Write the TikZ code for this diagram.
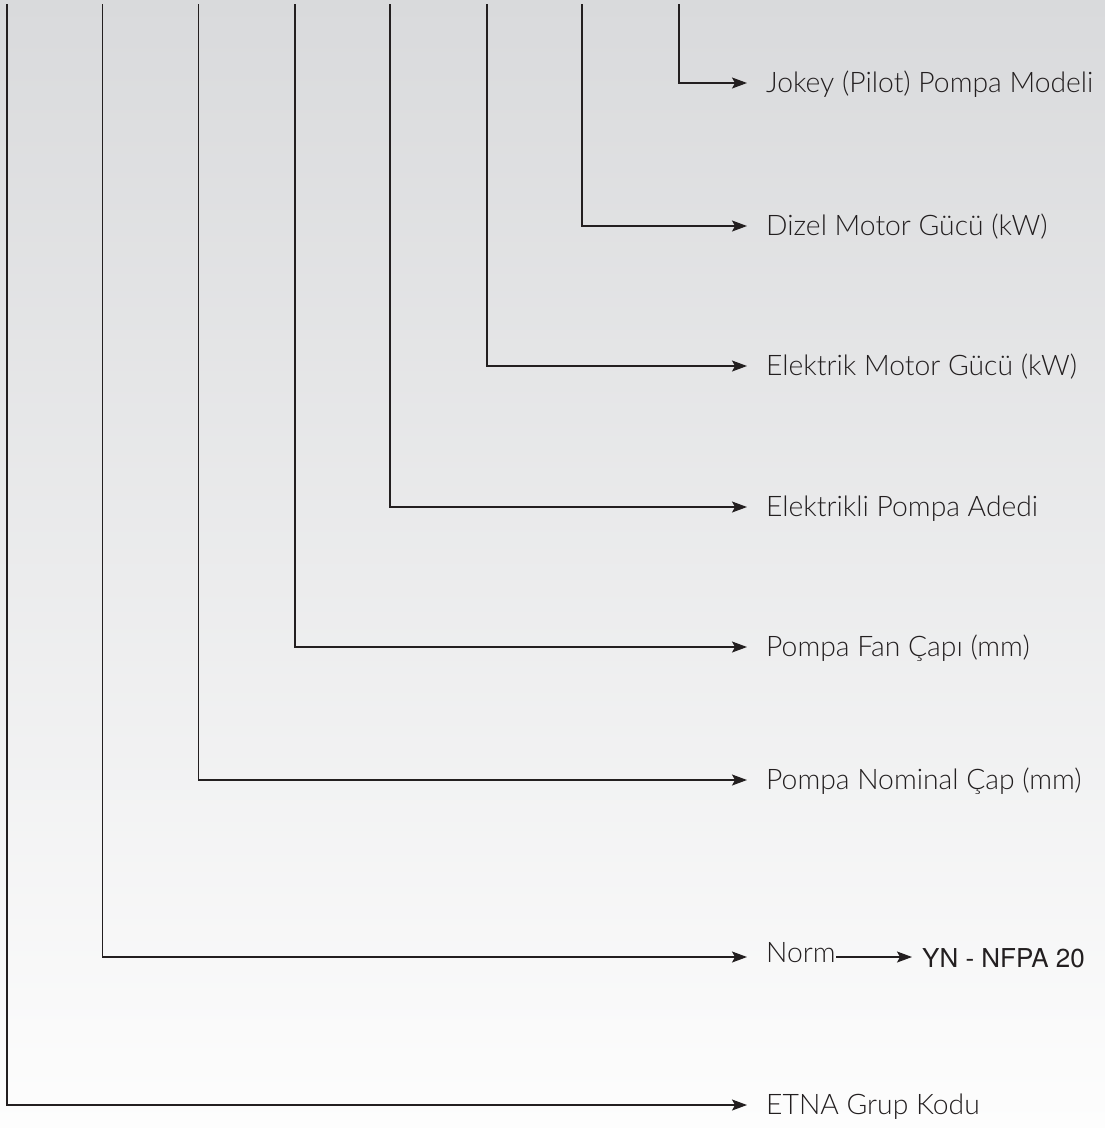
\documentclass[tikz,border=0pt]{standalone}
\usepackage{fontspec}
\setmainfont{Lato Light}
\newfontfamily\helv{TeX Gyre Heros}
\usetikzlibrary{arrows.meta}
\definecolor{ink}{HTML}{231F20}
\definecolor{bgtop}{HTML}{D9DADC}
\definecolor{bgbot}{HTML}{FDFDFD}
\tikzset{
  conn/.style={draw=ink, line width=1.3pt, -{Stealth[length=15pt,width=11pt,inset=3pt]}},
  lab/.style={inner sep=0pt, anchor=base west, text=ink, font=\fontsize{28.3}{32}\selectfont},
}
\begin{document}
\begin{tikzpicture}[x=1pt,y=-1pt]
\useasboundingbox (0,0) rectangle (1105,1128);
\shade[top color=bgtop, bottom color=bgbot] (0,0) rectangle (1105,1128);
% tops of vertical lines
\foreach \n/\x in {a/7,b/102.5,c/198.5,d/295,e/390,f/487,g/582,h/679}{
  \coordinate (top\n) at (\x,4);
}
% labels
\node[lab] (lh) at (766,92.5) {Jokey (Pilot) Pompa Modeli};
\node[lab] (lg) at (766,235) {Dizel Motor Gücü (kW)};
\node[lab] (lf) at (766,375.5) {Elektrik Motor Gücü (kW)};
\node[lab] (le) at (766,516) {Elektrikli Pompa Adedi};
\node[lab] (ld) at (766,656) {Pompa Fan Çapı (mm)};
\node[lab] (lc) at (766,789) {Pompa Nominal Çap (mm)};
\node[lab] (lb) at (766,962.3) {Norm};
\node[lab, font=\helv\fontsize{26}{30}\selectfont] (nfpa) at (922,967.7) {YN - NFPA 20};
\node[lab] (la) at (766,1114) {ETNA Grup Kodu};
% arrow tips
\coordinate (th) at (747,83);
\coordinate (tg) at (747,226);
\coordinate (tf) at (747,366);
\coordinate (te) at (747,507);
\coordinate (td) at (747,647);
\coordinate (tc) at (747,780);
\coordinate (tb) at (747,957);
\coordinate (ta) at (747,1105);
\coordinate (ns) at (836,957);
\coordinate (ne) at (912,957);
% connectors
\foreach \n in {a,b,c,d,e,f,g,h}{
  \draw[conn] (top\n) |- (t\n);
}
\draw[conn] (ns) -- (ne);
\end{tikzpicture}
\end{document}
